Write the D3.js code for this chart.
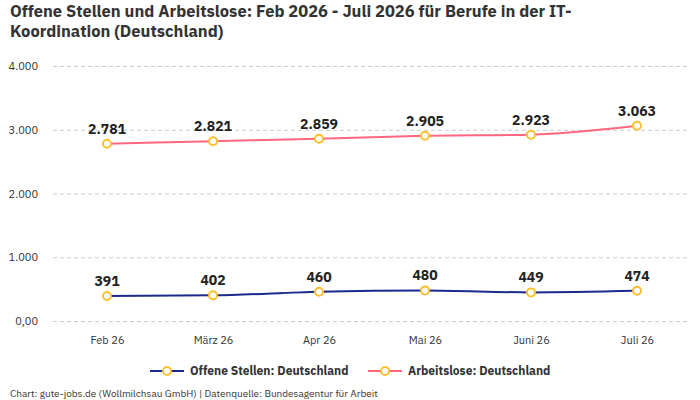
<!DOCTYPE html>
<html>
<head>
<meta charset="utf-8">
<script src="https://cdn.jsdelivr.net/npm/d3@7"></script>
<style>
  body { margin: 0; background: #fff; }
  text { font-family: "IBM Plex Sans", "Noto Sans", sans-serif; }
</style>
</head>
<body>
<svg id="chart" width="700" height="400"></svg>
<script>
// ---- Data ----
const months = ["Feb 26", "März 26", "Apr 26", "Mai 26", "Juni 26", "Juli 26"];
const offeneStellen = [391, 402, 460, 480, 449, 474];
const arbeitslose = [2781, 2821, 2859, 2905, 2923, 3063];
const yTicks = [0, 1000, 2000, 3000, 4000];
const seriesNames = ["Offene Stellen: Deutschland", "Arbeitslose: Deutschland"];

// ---- Layout ----
const width = 700, height = 400;
const margin = { left: 53, right: 10, top: 66, bottom: 79 };
const svg = d3.select("#chart");

const x = d3.scalePoint()
  .domain(months)
  .range([107, 637]);

const y = d3.scaleLinear()
  .domain([0, 4000])
  .range([321, 66]);

const fmt = d => d === 0 ? "0,00" : d3.format(",")(d).replace(/,/g, ".");
const fmtVal = d => d3.format(",")(d).replace(/,/g, ".");

// ---- Title ----
const titleLines = [
  "Offene Stellen und Arbeitslose: Feb 2026 - Juli 2026 für Berufe in der IT-",
  "Koordination (Deutschland)"
];
titleLines.forEach((t, i) => {
  svg.append("text")
    .attr("x", 10).attr("y", 17 + i * 20)
    .style("font-size", "16.5px").style("font-weight", "bold").attr("fill", "#333")
    .text(t);
});

// ---- Grid + y axis ----
const yAxis = svg.append("g")
  .attr("transform", `translate(${margin.left},0)`)
  .call(d3.axisLeft(y).tickValues(yTicks).tickFormat(fmt)
    .tickSize(-(width - margin.left - margin.right)).tickPadding(15));
yAxis.select(".domain").remove();
yAxis.selectAll(".tick line")
  .attr("stroke", "#ccc").attr("stroke-dasharray", "4,3");
yAxis.selectAll(".tick text")
  .attr("fill", "#333").style("font-size", "11px");

// ---- x axis ----
const xAxis = svg.append("g")
  .attr("transform", "translate(0,321)")
  .call(d3.axisBottom(x).tickSize(0).tickPadding(15));
xAxis.select(".domain").remove();
xAxis.selectAll(".tick text")
  .attr("fill", "#333").style("font-size", "11px");

// ---- Lines ----
const series = [
  { name: seriesNames[0], values: offeneStellen, color: "#1a2a8c" },
  { name: seriesNames[1], values: arbeitslose, color: "#ff6680" }
];

const line = d3.line()
  .x((d, i) => x(months[i]))
  .y(d => y(d))
  .curve(d3.curveMonotoneX);

series.forEach(s => {
  svg.append("path")
    .datum(s.values)
    .attr("fill", "none")
    .attr("stroke", s.color)
    .attr("stroke-width", 2)
    .attr("d", line);

  svg.selectAll(null)
    .data(s.values)
    .enter().append("circle")
    .attr("cx", (d, i) => x(months[i]))
    .attr("cy", d => y(d))
    .attr("r", 4)
    .attr("fill", "#fff")
    .attr("stroke", "#fbc02d")
    .attr("stroke-width", 2);

  svg.selectAll(null)
    .data(s.values)
    .enter().append("text")
    .attr("x", (d, i) => x(months[i]))
    .attr("y", d => y(d) - 10)
    .attr("text-anchor", "middle")
    .attr("fill", "#222")
    .style("font-size", "14px").style("font-weight", "bold")
    .text(fmtVal);
});

// ---- Legend ----
const legendItems = [
  { x: 150, s: series[0] },
  { x: 368, s: series[1] }
];
legendItems.forEach(item => {
  const lg = svg.append("g").attr("transform", `translate(${item.x},371)`);
  lg.append("line").attr("x1", 0).attr("x2", 34)
    .attr("stroke", item.s.color).attr("stroke-width", 2);
  lg.append("circle").attr("cx", 17).attr("r", 4)
    .attr("fill", "#fff").attr("stroke", "#fbc02d").attr("stroke-width", 2);
  lg.append("text").attr("x", 40).attr("dy", "0.35em")
    .attr("fill", "#333").style("font-size", "12px").style("font-weight", "bold")
    .text(item.s.name);
});

// ---- Footer ----
svg.append("text")
  .attr("x", 10).attr("y", 397)
  .attr("fill", "#333").style("font-size", "10px")
  .text("Chart: gute-jobs.de (Wollmilchsau GmbH) | Datenquelle: Bundesagentur für Arbeit");
</script>
</body>
</html>
